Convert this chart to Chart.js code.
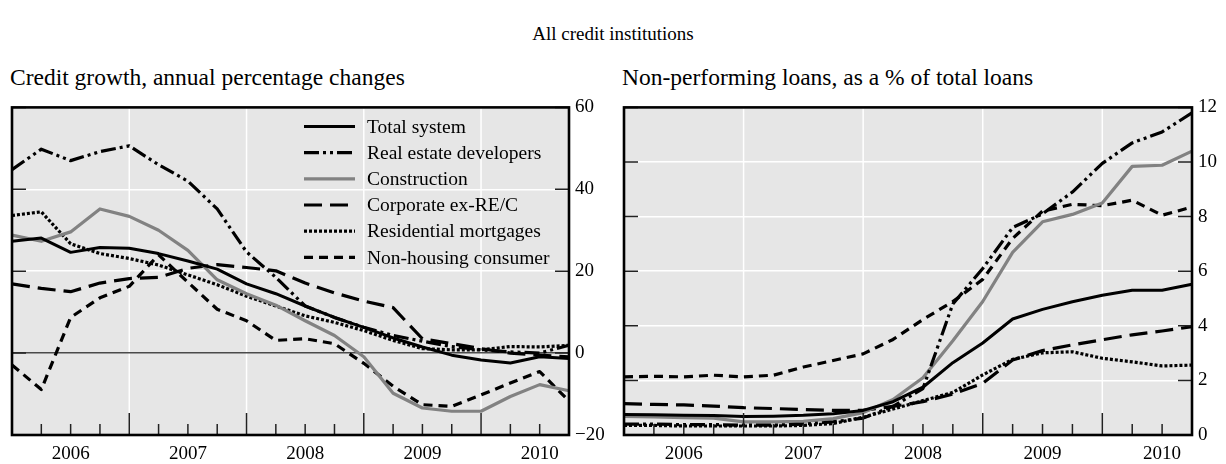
<!DOCTYPE html>
<html><head><meta charset="utf-8">
<script src="https://cdn.jsdelivr.net/npm/chart.js@4"></script>
<style>
html,body{margin:0;padding:0;background:#fff;width:1226px;height:464px;overflow:hidden;position:relative;font-family:"Liberation Serif","Times New Roman",serif;}
.t{position:absolute;white-space:nowrap;color:#000;font-size:19px;line-height:22px;}
.s{font-size:23.5px;line-height:26px;}
canvas{position:absolute;}
</style></head><body>
<div class="t" style="left:0;width:1226px;text-align:center;top:23px;">All credit institutions</div>
<div class="t s" style="left:10px;top:64px;">Credit growth, annual percentage changes</div>
<div class="t s" style="left:622px;top:64px;">Non-performing loans, as a % of total loans</div>
<canvas id="c1" width="612" height="374" style="left:0;top:90px;width:612px;height:374px"></canvas>
<canvas id="c2" width="614" height="374" style="left:612px;top:90px;width:614px;height:374px"></canvas>
<script>
// ---- data ----
const quarters = ['Dec 2005','Mar 2006','Jun 2006','Sep 2006','Dec 2006','Mar 2007','Jun 2007','Sep 2007',
  'Dec 2007','Mar 2008','Jun 2008','Sep 2008','Dec 2008','Mar 2009','Jun 2009','Sep 2009',
  'Dec 2009','Mar 2010','Jun 2010','Sep 2010'];
const seriesNames = ['Total system','Real estate developers','Construction','Corporate ex-RE/C','Residential mortgages','Non-housing consumer'];

// Credit growth, annual percentage changes
const growthTotal    = [27.3, 28.1, 24.6, 25.8, 25.6, 24.3, 22.5, 20.5, 16.9, 14.5, 11.5, 8.7, 6.3, 3.7, 1.5, -0.5, -1.7, -2.4, -0.9, -1.3];
const growthRE       = [44.8, 49.8, 47.0, 49.2, 50.6, 46.0, 42.0, 35.2, 24.7, 18.5, 11.5, 8.7, 6.3, 4.3, 2.9, 1.6, 0.8, 0.3, 0.0, 1.9];
const growthConstr   = [28.8, 27.3, 29.6, 35.2, 33.4, 30.0, 25.1, 17.9, 14.5, 11.7, 7.9, 4.3, -0.9, -9.8, -13.4, -14.2, -14.2, -10.6, -7.7, -9.2];
const growthCorp     = [16.9, 15.8, 15.0, 17.1, 18.2, 18.5, 20.7, 21.6, 20.9, 20.1, 17.1, 14.7, 12.7, 11.1, 3.5, 2.3, 1.1, 0.0, -0.5, -0.9];
const growthResid    = [33.6, 34.5, 26.7, 24.3, 23.1, 21.5, 19.1, 16.7, 13.9, 11.5, 9.1, 7.5, 5.5, 3.1, 1.1, 0.8, 0.8, 1.6, 1.5, 1.9];
const growthConsumer = [-2.9, -8.9, 8.7, 13.5, 16.3, 24.0, 17.3, 10.7, 7.9, 3.1, 3.5, 2.3, -2.5, -8.1, -12.6, -13.0, -10.2, -7.3, -4.5, -11.7];

// Non-performing loans, as a % of total loans
const nplTotal    = [0.75, 0.74, 0.72, 0.71, 0.68, 0.69, 0.72, 0.78, 0.90, 1.22, 1.75, 2.65, 3.37, 4.25, 4.60, 4.88, 5.12, 5.30, 5.30, 5.52];
const nplRE       = [0.40, 0.40, 0.38, 0.38, 0.36, 0.36, 0.40, 0.48, 0.62, 1.05, 1.70, 4.80, 6.10, 7.60, 8.10, 8.90, 9.95, 10.70, 11.10, 11.80];
const nplConstr   = [0.68, 0.66, 0.64, 0.62, 0.48, 0.48, 0.50, 0.60, 0.82, 1.30, 2.10, 3.45, 4.89, 6.69, 7.81, 8.08, 8.50, 9.84, 9.88, 10.40];
const nplCorp     = [1.15, 1.12, 1.10, 1.06, 1.00, 0.97, 0.93, 0.90, 0.90, 1.05, 1.22, 1.50, 1.89, 2.75, 3.09, 3.30, 3.49, 3.67, 3.81, 3.97];
const nplResid    = [0.35, 0.35, 0.33, 0.33, 0.33, 0.33, 0.35, 0.42, 0.65, 0.95, 1.26, 1.56, 2.20, 2.77, 3.01, 3.05, 2.81, 2.68, 2.53, 2.56];
const nplConsumer = [2.13, 2.15, 2.13, 2.19, 2.13, 2.19, 2.49, 2.73, 2.97, 3.50, 4.23, 4.89, 5.70, 7.20, 8.20, 8.45, 8.40, 8.60, 8.05, 8.35];

const growthTicks = [-20, 0, 20, 40, 60];
const nplTicks = [0, 2, 4, 6, 8, 10, 12];

// ---- styles ----
const FONT = {family:'"Liberation Serif", "Times New Roman", serif', size:19};
const styles = [
  {borderColor:'#000', borderWidth:3, borderDash:[]},
  {borderColor:'#000', borderWidth:3.2, borderDash:[15,4,3,4,3,4]},
  {borderColor:'#828282', borderWidth:3.2, borderDash:[]},
  {borderColor:'#000', borderWidth:3.2, borderDash:[18,8]},
  {borderColor:'#000', borderWidth:3.2, borderDash:[3,2]},
  {borderColor:'#000', borderWidth:3.2, borderDash:[9,6]}
];
function makeDatasets(arrs){
  return arrs.map((a,i)=>Object.assign({label:seriesNames[i], data:a, pointRadius:0, fill:false,
    tension:0, borderJoinStyle:'round', borderCapStyle:'butt'}, styles[i]));
}

const framePlugin = {
  id:'frame',
  beforeDraw(chart){
    const a=chart.chartArea, c=chart.ctx, x=chart.scales.x;
    c.save();
    c.fillStyle='#e6e6e6';
    c.fillRect(a.left,a.top,a.right-a.left,a.bottom-a.top);
    c.strokeStyle='#fff'; c.lineWidth=1.5;
    quarters.forEach((q,i)=>{
      if(q.startsWith('Dec') && i>0 && i<quarters.length-1){
        const px=x.getPixelForValue(i);
        c.beginPath(); c.moveTo(px,a.top); c.lineTo(px,a.bottom); c.stroke();
      }
    });
    c.restore();
  },
  afterDatasetsDraw(chart){
    const a=chart.chartArea, c=chart.ctx, x=chart.scales.x, y=chart.scales.y;
    c.save();
    c.strokeStyle='#222'; c.lineWidth=1.5;
    quarters.forEach((q,i)=>{
      if(i===0 || i===quarters.length-1) return;
      const len = q.startsWith('Dec') ? 22 : 11;
      const px = x.getPixelForValue(i);
      c.beginPath(); c.moveTo(px,a.bottom); c.lineTo(px,a.bottom-len); c.stroke();
    });
    y.ticks.forEach(t=>{
      const py = y.getPixelForValue(t.value);
      c.beginPath(); c.moveTo(a.left,py); c.lineTo(a.left+14,py);
      c.moveTo(a.right-14,py); c.lineTo(a.right,py); c.stroke();
    });
    c.strokeStyle='#000'; c.lineWidth=2.6;
    c.strokeRect(a.left,a.top,a.right-a.left,a.bottom-a.top);
    c.restore();
  }
};

const legendPlugin = {
  id:'insideLegend',
  afterDatasetsDraw(chart){
    const c=chart.ctx, a=chart.chartArea;
    c.save();
    chart.data.datasets.forEach((ds,i)=>{
      const yy = a.top + 19 + i*26.2;
      const x0 = a.right - 265;
      c.strokeStyle=ds.borderColor; c.lineWidth=ds.borderWidth;
      c.setLineDash(ds.borderDash||[]);
      c.beginPath(); c.moveTo(x0,yy); c.lineTo(x0+51,yy); c.stroke();
      c.setLineDash([]);
      c.fillStyle='#000';
      c.font='19.5px "Liberation Serif", "Times New Roman", serif';
      c.textBaseline='middle'; c.textAlign='left';
      c.fillText(ds.label, x0+63, yy+1);
    });
    c.restore();
  }
};

function xAxis(){
  return {
    type:'category', offset:false,
    ticks:{autoSkip:false, maxRotation:0, minRotation:0, font:FONT, color:'#000', padding:8,
      callback:(v)=>quarters[v].slice(4)},
    afterBuildTicks(s){
      s.ticks = quarters.map((q,i)=>({q,i})).filter(o=>o.q.startsWith('Jun')).map(o=>({value:o.i}));
    },
    grid:{display:false, drawTicks:false},
    border:{display:false},
    afterFit(s){ s.height = 29; }
  };
}
function yAxis(min,max,ticks,width,zeroDark){
  return {
    position:'right', min:min, max:max,
    afterBuildTicks(s){ s.ticks = ticks.map(v=>({value:v})); },
    ticks:{font:FONT, color:'#000', padding:6,
      callback:(v)=> v<0 ? '\u2212'+Math.abs(v) : String(v)},
    grid:{drawTicks:false, lineWidth:1.5,
      color:(ctx)=> (zeroDark && ctx.tick && ctx.tick.value===0) ? '#4a4a4a' : '#ffffff'},
    border:{display:false},
    afterFit(s){ s.width = width; }
  };
}

function makeChart(id, arrs, yopts, withLegend){
  return new Chart(document.getElementById(id), {
    type:'line',
    data:{labels:quarters, datasets:makeDatasets(arrs)},
    options:{
      responsive:false, animation:false,
      layout:{padding:{left:12, top:13, right:0, bottom:0}},
      plugins:{legend:{display:false}, tooltip:{enabled:false}, title:{display:false}},
      scales:{x:xAxis(), y:yopts}
    },
    plugins: withLegend ? [framePlugin, legendPlugin] : [framePlugin]
  });
}

makeChart('c1', [growthTotal,growthRE,growthConstr,growthCorp,growthResid,growthConsumer],
  yAxis(-20,60,growthTicks,43,true), true);
makeChart('c2', [nplTotal,nplRE,nplConstr,nplCorp,nplResid,nplConsumer],
  yAxis(0,12,nplTicks,34,false), false);
</script>
</body></html>
